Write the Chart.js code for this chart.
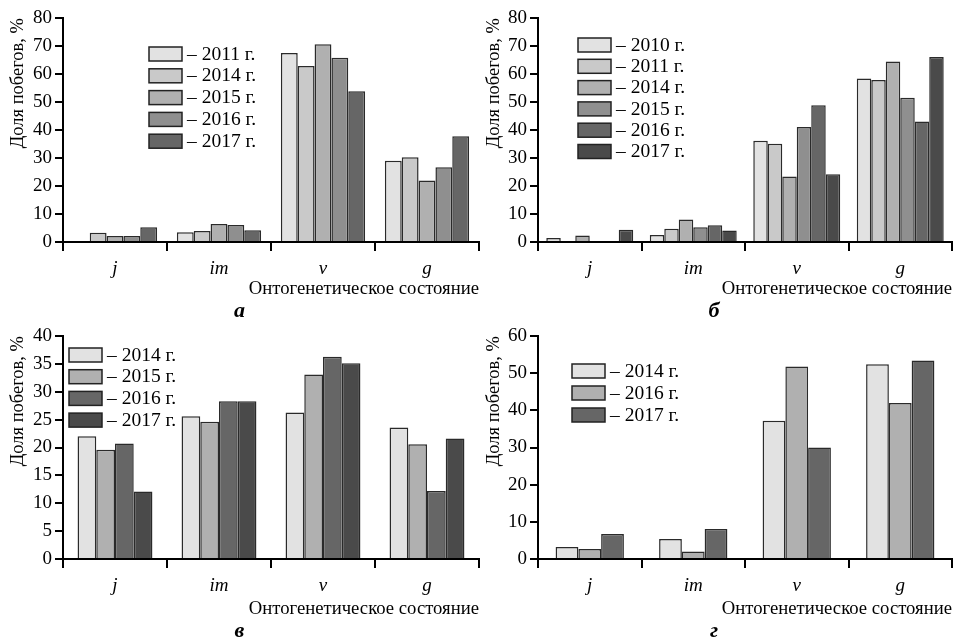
<!DOCTYPE html>
<html lang="ru">
<head>
<meta charset="utf-8">
<title>Доля побегов по онтогенетическим состояниям</title>
<script src="https://cdn.jsdelivr.net/npm/chart.js@4.4.1/dist/chart.umd.min.js"></script>
<style>
  html, body { margin: 0; padding: 0; background: #fff; }
  #wrap { position: relative; width: 953px; height: 640px; overflow: hidden; }
  canvas { position: absolute; }
</style>
</head>
<body>
<div id="wrap">
  <canvas id="chartA" width="480" height="320" style="left:0;top:0"></canvas>
  <canvas id="chartB" width="477" height="320" style="left:476px;top:0"></canvas>
  <canvas id="chartC" width="480" height="320" style="left:0;top:320px"></canvas>
  <canvas id="chartD" width="477" height="320" style="left:476px;top:320px"></canvas>
</div>
<script>
// Онтогенетические состояния (общие для всех панелей)
const states = ['j', 'im', 'v', 'g'];

// Панель а
const yearsA = ['2011', '2014', '2015', '2016', '2017'];
const a2011 = [0, 3.5, 67.5, 29.0];
const a2014 = [3.3, 3.9, 62.9, 30.3];
const a2015 = [2.1, 6.4, 70.6, 22.0];
const a2016 = [2.1, 6.1, 65.8, 26.7];
const a2017 = [5.3, 4.2, 53.8, 37.8];

// Панель б
const yearsB = ['2010', '2011', '2014', '2015', '2016', '2017'];
const b2010 = [1.4, 2.5, 36.2, 58.4];
const b2011 = [0, 4.7, 35.1, 57.9];
const b2014 = [2.3, 8.0, 23.4, 64.5];
const b2015 = [0, 5.3, 41.1, 51.5];
const b2016 = [0, 6.0, 48.8, 43.0];
const b2017 = [4.4, 4.1, 24.2, 66.1];

// Панель в
const yearsC = ['2014', '2015', '2016', '2017'];
const c2014 = [22.0, 25.6, 26.3, 23.6];
const c2015 = [19.6, 24.6, 33.1, 20.6];
const c2016 = [20.7, 28.3, 36.3, 12.2];
const c2017 = [12.1, 28.3, 35.1, 21.6];

// Панель г
const yearsD = ['2014', '2016', '2017'];
const d2014 = [3.2, 5.4, 37.2, 52.4];
const d2016 = [2.7, 2.0, 51.8, 42.0];
const d2017 = [6.7, 8.1, 30.0, 53.4];

const SERIF = '"Liberation Serif", "Times New Roman", serif';

// Легенда внутри области графика
const legendInside = {
    id: 'legendInside',
    afterDraw(chart, args, opts) {
        const ctx = chart.ctx;
        ctx.save();
        ctx.font = '19.5px ' + SERIF;
        ctx.textBaseline = 'middle';
        ctx.textAlign = 'left';
        chart.data.datasets.forEach(function (ds, i) {
            const y = opts.y + i * opts.step;
            ctx.fillStyle = ds.backgroundColor;
            ctx.fillRect(opts.x, y, 33, 14);
            ctx.strokeStyle = '#222';
            ctx.lineWidth = 1.5;
            ctx.strokeRect(opts.x, y, 33, 14);
            ctx.fillStyle = '#000';
            ctx.fillText('\u2013 ' + ds.label + ' г.', opts.x + 38, y + 7.5);
        });
        ctx.restore();
    }
};

function makeChart(id, years, series, colors, yMax, step, letter, catPct, legend, top, yWidth, xHeight) {
    const ctx = document.getElementById(id).getContext('2d');
    const datasets = years.map(function (yr, i) {
        return {
            label: yr,
            data: series[i],
            backgroundColor: colors[i],
            borderColor: '#2a2a2a',
            borderWidth: 1.5,
            barPercentage: 1,
            categoryPercentage: catPct
        };
    });
    return new Chart(ctx, {
        type: 'bar',
        data: { labels: states, datasets: datasets },
        options: {
            responsive: false,
            animation: false,
            layout: { padding: { top: top, right: 1, left: 0, bottom: 0 } },
            plugins: {
                legend: { display: false },
                tooltip: { enabled: false },
                title: {
                    display: true,
                    text: letter,
                    position: 'bottom',
                    color: '#000',
                    font: { family: SERIF, size: 22, weight: 'bold', style: 'italic', lineHeight: 0.8 },
                    padding: 0
                },
                legendInside: legend
            },
            scales: {
                x: {
                    grid: { display: true, drawOnChartArea: false, offset: true, tickLength: 9, color: '#000', lineWidth: 2 },
                    border: { display: true, color: '#000', width: 2 },
                    ticks: { color: '#000', padding: 7, font: { family: SERIF, size: 19, style: 'italic' } },
                    title: {
                        display: true,
                        text: 'Онтогенетическое состояние',
                        align: 'end',
                        color: '#000',
                        font: { family: SERIF, size: 18.7, lineHeight: 1 },
                        padding: { top: 0, bottom: 4 }
                    },
                    afterFit: function (s) { s.height = xHeight; }
                },
                y: {
                    min: 0,
                    max: yMax,
                    grid: { display: true, drawOnChartArea: false, tickLength: 8, color: '#000', lineWidth: 2 },
                    border: { display: true, color: '#000', width: 2 },
                    ticks: { stepSize: step, color: '#000', padding: 3, font: { family: SERIF, size: 19 } },
                    title: {
                        display: true,
                        text: 'Доля побегов, %',
                        align: 'end',
                        color: '#000',
                        font: { family: SERIF, size: 18.5, lineHeight: 1.2 },
                        padding: { top: 7, bottom: 0 }
                    },
                    afterFit: function (s) { s.width = yWidth; }
                }
            }
        },
        plugins: [legendInside]
    });
}

document.addEventListener('DOMContentLoaded', function () {
    makeChart('chartA', yearsA, [a2011, a2014, a2015, a2016, a2017],
        ['#e2e2e2', '#c9c9c9', '#b0b0b0', '#8f8f8f', '#666666'],
        80, 10, 'а', 0.81, { x: 149, y: 47, step: 21.8 }, 18, 63, 60.4);
    makeChart('chartB', yearsB, [b2010, b2011, b2014, b2015, b2016, b2017],
        ['#e2e2e2', '#c9c9c9', '#b0b0b0', '#8f8f8f', '#666666', '#4a4a4a'],
        80, 10, 'б', 0.84, { x: 102, y: 38, step: 21.3 }, 18, 62, 60.4);
    makeChart('chartC', yearsC, [c2014, c2015, c2016, c2017],
        ['#e2e2e2', '#b0b0b0', '#666666', '#4a4a4a'],
        40, 5, 'в', 0.72, { x: 69, y: 28, step: 21.7 }, 16, 63, 63.4);
    makeChart('chartD', yearsD, [d2014, d2016, d2017],
        ['#e2e2e2', '#b0b0b0', '#666666'],
        60, 10, 'г', 0.66, { x: 96, y: 44, step: 22 }, 16, 62, 63.4);
});
</script>
</body>
</html>
